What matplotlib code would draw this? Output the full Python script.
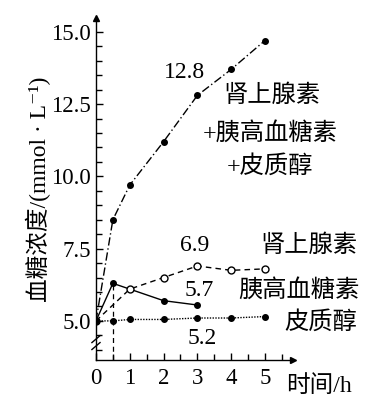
import numpy as np
import matplotlib
matplotlib.use("Agg")
import matplotlib.pyplot as plt
from matplotlib.ticker import MultipleLocator

plt.rcParams['font.family'] = ['Liberation Serif', 'DejaVu Serif', 'Noto Sans CJK SC']

# data
t_all = [0, 0.5, 1, 2, 3, 4, 5]
all_three = [5.0, 8.5, 9.7, 11.2, 12.8, 13.7, 14.7]

t_epi = [0, 1, 2, 3, 4, 5]
epi = [5.0, 6.1, 6.5, 6.9, 6.75, 6.8]

t_glu = [0, 0.5, 1, 2, 3]
glu = [5.0, 6.3, 6.1, 5.7, 5.55]

t_cort = [0, 0.5, 1, 2, 3, 4, 5]
cort = [5.0, 5.0, 5.05, 5.05, 5.1, 5.1, 5.15]

x_ticks = [0, 1, 2, 3, 4, 5]
y_ticks = [5.0, 7.5, 10.0, 12.5, 15.0]

fig = plt.figure(figsize=(3.87, 4.09), dpi=100)
ax = fig.add_axes([0.248, 0.12, 0.509, 0.836])
ax.set_xlim(0, 5.83)
ax.set_ylim(3.65, 15.48)

k = dict(color='black', lw=1.0)
ax.plot(t_all, all_three, ls=(0, (6, 2, 1, 2)), marker='o', ms=4, **k)
ax.plot(t_glu, glu, ls='-', **k)
ax.plot([t_glu[i] for i in (0, 1, 3, 4)], [glu[i] for i in (0, 1, 3, 4)],
        ls='none', marker='o', ms=4, color='black')
ax.plot(t_epi, epi, ls=(0, (4, 3)), marker='o', ms=5, mfc='white', mec='black', mew=1.0, **k)
ax.plot(t_cort, cort, ls=(0, (1, 1)), marker='o', ms=4, **k)
ax.plot(t_cort[0], cort[0], marker='o', ms=4, color='black')

# dashed guide at 0.5 h
ax.plot([0.5, 0.5], [ax.get_ylim()[0], glu[1]], ls=(0, (4, 3)), color='black', lw=0.9)

for s in ['top', 'right']:
    ax.spines[s].set_visible(False)
for s in ['left', 'bottom']:
    ax.spines[s].set_linewidth(1.0)

ax.set_xticks(x_ticks)
ax.set_xticklabels([str(v) for v in x_ticks])
ax.set_yticks(y_ticks)
ax.set_yticklabels(['%.1f' % v for v in y_ticks])
ax.xaxis.set_minor_locator(MultipleLocator(0.5))
ax.yaxis.set_minor_locator(MultipleLocator(0.5))
ax.tick_params(which='both', direction='in', length=5, width=1.0, labelsize=16.5)
ax.tick_params(axis='y', which='minor', length=4)
ax.tick_params(axis='x', which='minor', length=4)
ax.tick_params(axis='x', pad=6)

# axis arrows
ax.plot(1, 0, '>k', ms=5, transform=ax.transAxes, clip_on=False)
ax.plot(0, 1, '^k', ms=5, transform=ax.transAxes, clip_on=False)

# axis break marks
for dy in (-0.12, 0.12):
    ax.plot([-0.12, 0.12], [4.25 + dy - 0.12, 4.25 + dy + 0.12], color='black', lw=1.0, clip_on=False)

ax.set_ylabel('血糖浓度/(mmol · L⁻¹)', fontsize=17, labelpad=0)
ax.text(0.965, -0.075, '时间/h', transform=ax.transAxes, fontsize=17, ha='left', va='center')

fs = 17.5   # Chinese labels
fn = 17     # numbers
ax.text(2.63, 13.6, '12.8', fontsize=fn, ha='center', va='center')
ax.text(5.2, 12.8, '肾上腺素', fontsize=fs, ha='center', va='center')
ax.text(5.15, 11.5, '+胰高血糖素', fontsize=fs, ha='center', va='center')
ax.text(5.15, 10.35, '+皮质醇', fontsize=fs, ha='center', va='center')
ax.text(2.93, 7.6, '6.9', fontsize=fn, ha='center', va='center')
ax.text(6.3, 7.6, '肾上腺素', fontsize=fs, ha='center', va='center')
ax.text(3.05, 6.05, '5.7', fontsize=fn, ha='center', va='center')
ax.text(6.0, 6.05, '胰高血糖素', fontsize=fs, ha='center', va='center')
ax.text(6.65, 4.95, '皮质醇', fontsize=fs, ha='center', va='center')
ax.text(3.15, 4.4, '5.2', fontsize=fn, ha='center', va='center')

fig.savefig('out.png', dpi=100)
